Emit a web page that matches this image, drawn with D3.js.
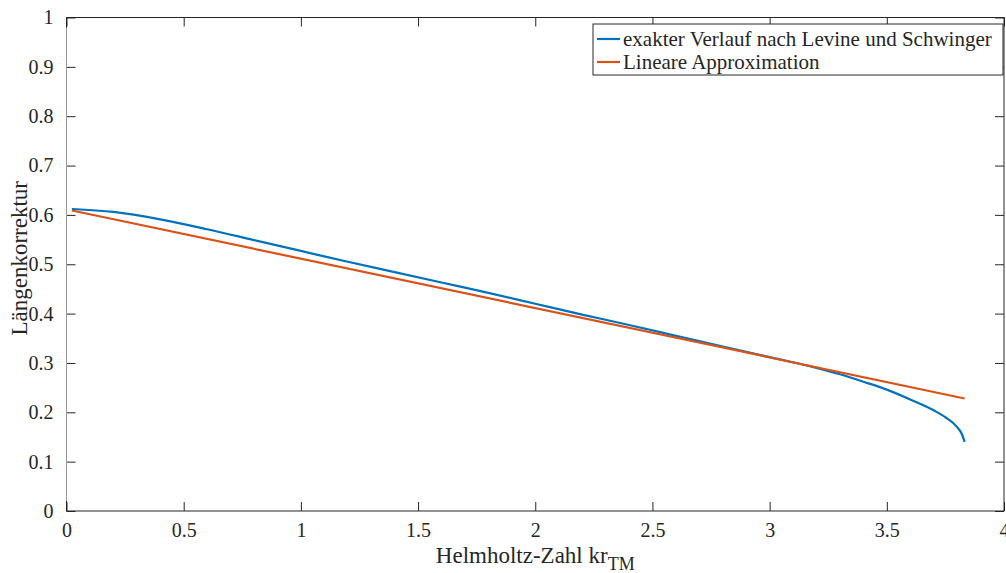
<!DOCTYPE html>
<html lang="de">
<head>
    <meta charset="UTF-8">
    <title>Längenkorrektur</title>
    <style>
        body { margin: 0; background: #fff; }
        svg text { font-family: "Liberation Serif", "Times New Roman", serif; fill: #262626; }
        .line { fill: none; stroke-width: 2.2px; }
    </style>
</head>
<body>
    <div id="chart"></div>

    <script src="https://d3js.org/d3.v7.min.js"></script>
    <script>
        // exakter Verlauf (Levine & Schwinger)
        const kaExact = [0.023, 0.2, 0.4, 0.6, 0.8, 1.0, 1.2, 1.4, 1.6, 1.8, 2.0, 2.2, 2.4, 2.6, 2.8, 3.0, 3.2, 3.3, 3.4, 3.5, 3.6, 3.7, 3.75, 3.8, 3.82, 3.832];
        const lExact  = [0.612, 0.606, 0.591, 0.571, 0.549, 0.527, 0.505, 0.484, 0.463, 0.442, 0.420, 0.398, 0.377, 0.355, 0.333, 0.312, 0.290, 0.277, 0.262, 0.246, 0.226, 0.204, 0.190, 0.170, 0.156, 0.140];

        // lineare Approximation
        const kaLin = [0.023, 3.832];
        const lLin  = [0.609, 0.228];

        const xTicks = [0, 0.5, 1, 1.5, 2, 2.5, 3, 3.5, 4];
        const yTicks = [0, 0.1, 0.2, 0.3, 0.4, 0.5, 0.6, 0.7, 0.8, 0.9, 1];

        const seriesNames = ["exakter Verlauf nach Levine und Schwinger", "Lineare Approximation"];
        const colors = ["#0072BD", "#D95319"];

        const W = 1006, H = 573;
        const mLeft = 66.5, mRight = 1004, mTop = 17.5, mBottom = 511;

        const svg = d3.select("#chart").append("svg")
            .attr("width", W)
            .attr("height", H);

        const x = d3.scaleLinear().domain([0, 4]).range([mLeft, mRight]);
        const y = d3.scaleLinear().domain([0, 1]).range([mBottom, mTop]);

        const fmt = d => String(d);

        // Achsen mit Ticks nach innen
        svg.append("g")
            .attr("transform", `translate(0,${mBottom})`)
            .call(d3.axisBottom(x).tickValues(xTicks).tickFormat(fmt).tickSizeInner(-9).tickSizeOuter(0).tickPadding(12))
            .call(g => g.select(".domain").remove());
        svg.append("g")
            .attr("transform", `translate(0,${mTop})`)
            .call(d3.axisTop(x).tickValues(xTicks).tickFormat("").tickSizeInner(-9).tickSizeOuter(0))
            .call(g => g.select(".domain").remove());
        svg.append("g")
            .attr("transform", `translate(${mLeft},0)`)
            .call(d3.axisLeft(y).tickValues(yTicks).tickFormat(fmt).tickSizeInner(-9).tickSizeOuter(0).tickPadding(13))
            .call(g => g.select(".domain").remove());
        svg.append("g")
            .attr("transform", `translate(${mRight},0)`)
            .call(d3.axisRight(y).tickValues(yTicks).tickFormat("").tickSizeInner(-9).tickSizeOuter(0))
            .call(g => g.select(".domain").remove());

        svg.selectAll(".tick line").attr("stroke", "#262626");
        svg.selectAll(".tick text")
            .attr("font-family", "Liberation Serif")
            .attr("font-size", 20)
            .attr("fill", "#262626");

        // Rahmen
        svg.append("rect")
            .attr("x", mLeft).attr("y", mTop)
            .attr("width", mRight - mLeft).attr("height", mBottom - mTop)
            .attr("fill", "none").attr("stroke", "#262626").attr("stroke-width", 1);
        // linke Achse wirkt im Original heller
        svg.append("line")
            .attr("x1", mLeft).attr("x2", mLeft)
            .attr("y1", mTop + 10).attr("y2", mBottom - 10)
            .attr("stroke", "#9a9a9a").attr("stroke-width", 1);

        // Kurven
        const line = d3.line().x(d => x(d[0])).y(d => y(d[1]));
        svg.append("path")
            .datum(kaExact.map((k, i) => [k, lExact[i]]))
            .attr("class", "line")
            .attr("stroke", colors[0])
            .attr("d", line.curve(d3.curveMonotoneX));
        svg.append("path")
            .datum(kaLin.map((k, i) => [k, lLin[i]]))
            .attr("class", "line")
            .attr("stroke", colors[1])
            .attr("d", d3.line().x(d => x(d[0])).y(d => y(d[1])));

        // Achsenbeschriftung
        const xl = svg.append("text")
            .attr("x", (mLeft + mRight) / 2)
            .attr("y", 563)
            .attr("text-anchor", "middle")
            .attr("font-size", 23);
        xl.append("tspan").text("Helmholtz-Zahl kr");
        xl.append("tspan").attr("baseline-shift", "-40%").attr("font-size", 18).text("TM");

        svg.append("text")
            .attr("transform", `translate(27,${(mTop + mBottom) / 2 - 6}) rotate(-90)`)
            .attr("text-anchor", "middle")
            .attr("font-size", 23)
            .text("Längenkorrektur");

        // Legende
        const lg = svg.append("g").attr("transform", "translate(593,24)");
        lg.append("rect")
            .attr("width", 410).attr("height", 51)
            .attr("fill", "#fff").attr("stroke", "#262626").attr("stroke-width", 1);
        seriesNames.forEach((name, i) => {
            const yy = 15 + i * 23;
            lg.append("line")
                .attr("x1", 4).attr("x2", 27)
                .attr("y1", yy).attr("y2", yy)
                .attr("stroke", colors[i]).attr("stroke-width", 2.2);
            lg.append("text")
                .attr("x", 30).attr("y", yy)
                .attr("dy", "0.33em")
                .attr("font-size", 21)
                .text(name);
        });
    </script>
</body>
</html>
